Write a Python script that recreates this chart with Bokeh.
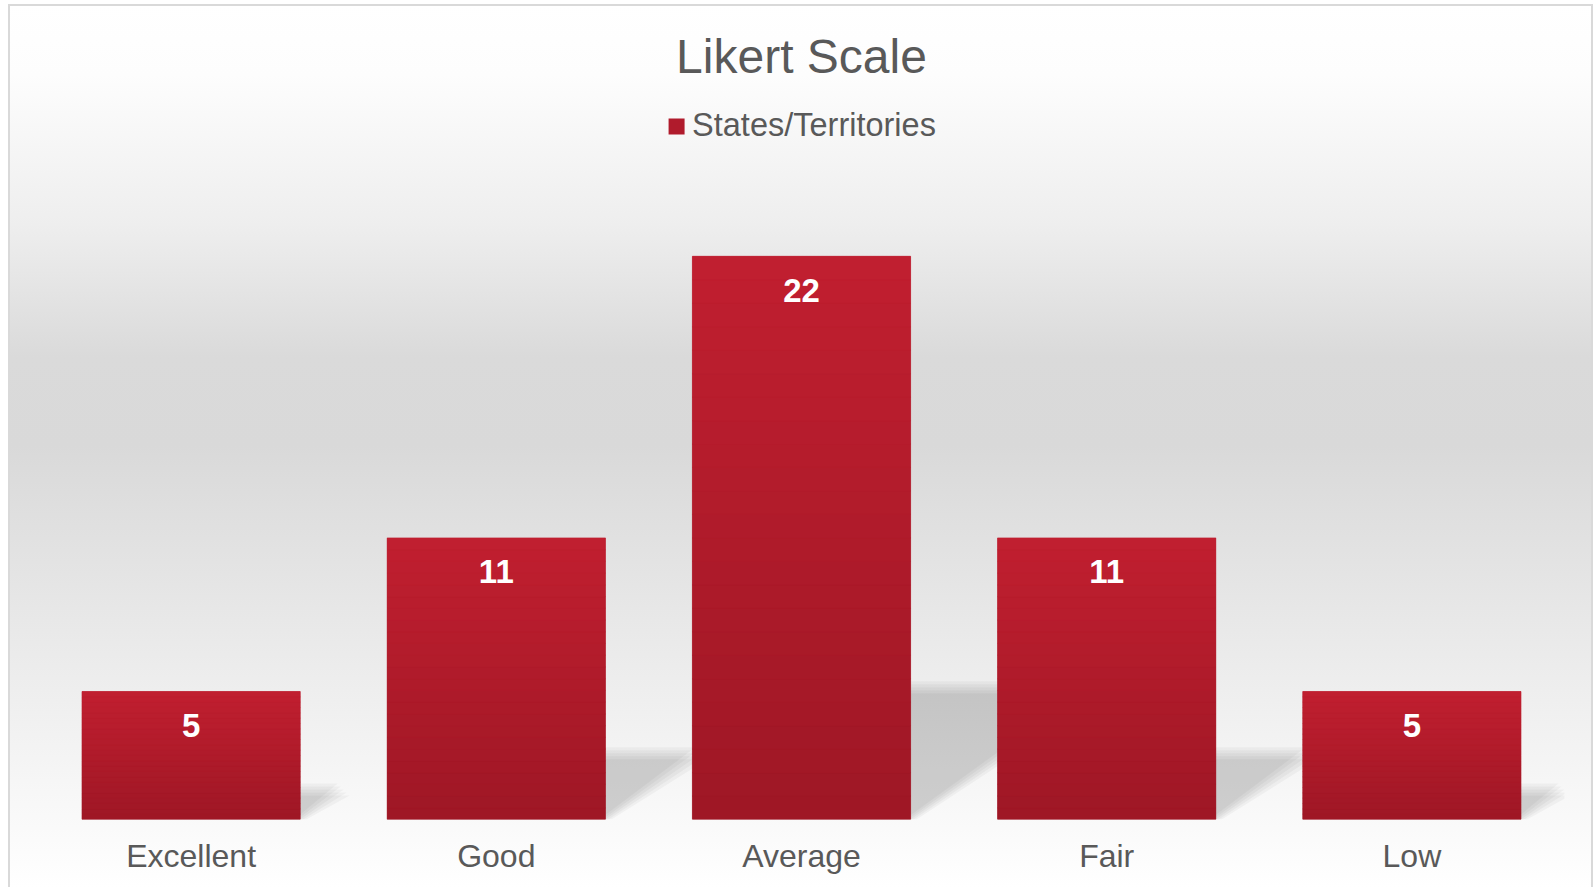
from bokeh.plotting import figure
from bokeh.models import ColumnDataSource, Legend, LegendItem, FactorRange, Range1d
from bokeh.core.properties import value
from bokeh.embed import file_html
from bokeh.resources import INLINE

# ---- data ----
categories = ["Excellent", "Good", "Average", "Fair", "Low"]
counts = [5, 11, 22, 11, 5]
series_name = "States/Territories"
title_text = "Likert Scale"

FONT = "Liberation Sans"
GREY = "#595959"
W, H = 1593, 887
ML, MR, MT, MB = 38, 29, 95, 68
YMAX = 28.28

p = figure(
    x_range=FactorRange(*categories, range_padding=0),
    y_range=Range1d(0, YMAX),
    width=W, height=H,
    output_backend="svg", toolbar_location=None,
    min_border_left=ML, min_border_right=MR,
    min_border_top=MT, min_border_bottom=MB,
    title=title_text,
)
bd = "linear-gradient(#d9d9d9,#d9d9d9)"
grad = ("linear-gradient(to bottom, #ffffff 0%, #fdfdfd 8%, #eeeeee 25%, #dadada 40%, "
        "#d9d9d9 50%, #ececec 75%, #f6f6f6 88%, #ffffff 100%)")
p.styles = {
    "background": (
        f"{bd} 8px 4px / 2px 883px no-repeat, "
        f"{bd} 8px 4px / 1585px 2px no-repeat, "
        f"{bd} 1591px 4px / 2px 883px no-repeat, "
        f"{grad} 8px 4px / 1585px 883px no-repeat, #ffffff"
    ),
}
p.border_fill_color = None
p.background_fill_color = None
p.outline_line_color = None
p.xgrid.grid_line_color = None
p.ygrid.grid_line_color = None
p.yaxis.visible = False

p.title.align = "center"
p.title.text_font = FONT
p.title.text_font_size = "48px"
p.title.text_font_style = "normal"
p.title.text_color = GREY
p.title.standoff = 26

ax = p.xaxis[0]
ax.axis_line_color = None
ax.major_tick_line_color = None
ax.minor_tick_line_color = None
ax.major_label_text_font = FONT
ax.major_label_text_font_size = "32px"
ax.major_label_text_color = GREY
ax.major_label_standoff = 12

BAR_W = 0.715

# ---- floor shadows (derived from the counts) ----
PX_Y = (H - MT - MB) / YMAX          # pixels per unit
PX_X = (W - ML - MR) / len(categories)  # pixels per category
SH_FRAC, SH_SLOPE = 0.235, 0.69
for k in range(5):
    o = (k - 2) * 3.0  # px
    sxs, sys = [], []
    for i, v in enumerate(counts):
        hs = SH_FRAC * v + o / PX_Y
        dx = (SH_FRAC * v * PX_Y / SH_SLOPE) / PX_X
        xl = i + 0.5 - BAR_W / 2
        xr = i + 0.5 + BAR_W / 2 - o / PX_X
        sxs.append([xl, xr, xr + dx, xl + dx])
        sys.append([0, 0, hs, hs])
    p.patches(sxs, sys, fill_color="black", fill_alpha=0.035, line_color=None)

# base bars (solid)
base = p.vbar(x=categories, top=counts, width=BAR_W, fill_color="#b01b2c", line_color=None)

# vertical gradient overlay, built from the counts
N = 24
top_rgb = (193, 31, 48)
bot_rgb = (158, 23, 37)
gx, gb, gt, gc = [], [], [], []
for c, v in zip(categories, counts):
    for i in range(N):
        f = (i + 0.5) / N
        rgb = tuple(int(round(b + (t - b) * f)) for b, t in zip(bot_rgb, top_rgb))
        gx.append(c)
        gb.append(v * i / N)
        gt.append(v * (i + 1) / N)
        gc.append("#%02x%02x%02x" % rgb)
gsrc = ColumnDataSource(dict(x=gx, bottom=gb, top=gt, color=gc))
p.vbar(x="x", bottom="bottom", top="top", width=BAR_W, fill_color="color",
       line_color="color", line_width=0.6, source=gsrc)

# value labels
p.text(x=categories, y=counts, text=[str(v) for v in counts],
       text_align="center", text_baseline="middle", y_offset=34,
       text_color="white", text_font=value(FONT), text_font_style="bold",
       text_font_size="33px")

legend = Legend(
    items=[LegendItem(label=series_name, renderers=[base])],
    location="top_center", orientation="horizontal",
    glyph_width=20, glyph_height=20, label_standoff=6,
    label_text_font=FONT, label_text_font_size="32.5px", label_text_color=GREY,
    background_fill_alpha=0, border_line_color=None, padding=0, margin=12,
)
p.add_layout(legend)

open("out.html", "w").write(file_html(p, INLINE))
